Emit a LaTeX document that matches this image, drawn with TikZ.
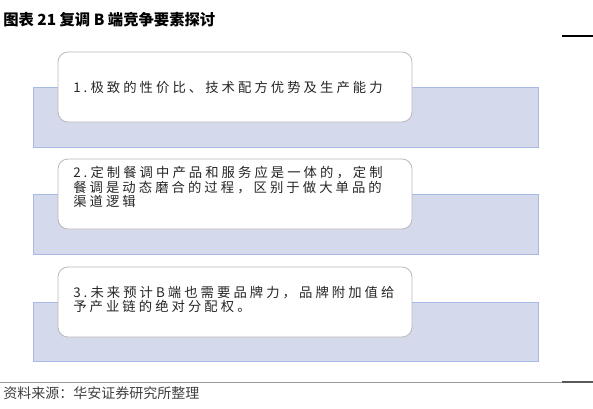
\documentclass[tikz,border=0pt]{standalone}
\usepackage{fontspec}
\newfontfamily\cjk{Noto Sans CJK SC}[LetterSpace=23]
\newfontfamily\cjkplain{Noto Sans CJK SC}
\definecolor{bandfill}{RGB}{212,217,235}
\definecolor{bandline}{RGB}{168,186,228}
\definecolor{boxline}{RGB}{185,185,185}
\begin{document}
\begin{tikzpicture}[x=0.75pt,y=-0.75pt,
  band/.style={fill=bandfill,draw=bandline,line width=0.6pt},
  card/.style={fill=white,draw=boxline,line width=0.6pt,rounded corners=7.5pt},
  cardtext/.style={anchor=west,inner sep=0pt,align=left,font=\cjk\fontsize{10}{11}\selectfont,text=black!85}]
\useasboundingbox (0,0) rectangle (593,408);
% title
\node[anchor=west,inner sep=0pt,font=\cjkplain\bfseries\fontsize{11.5}{13}\selectfont] (title) at (3,20) {图表 21 复调 B 端竞争要素探讨};
\draw[line width=0.8pt] (562,36) coordinate (tl1) -- (593,36) coordinate (tl2);
% bands
\path[band] (33,87) rectangle (538,147);
\path[band] (33,194) rectangle (538,254);
\path[band] (33,302) rectangle (538,361);
% cards
\path[card] (58,52) rectangle (412,122);
\path[card] (58,159) rectangle (412,229);
\path[card] (58,267) rectangle (412,337);
% texts
\node[cardtext] (t1) at (73,87) {1.极致的性价比、技术配方优势及生产能力};
\node[cardtext] (t2) at (73,187) {2.定制餐调中产品和服务应是一体的，定制\\餐调是动态磨合的过程，区别于做大单品的\\渠道逻辑};
\node[cardtext] (t3) at (73,299.5) {3.未来预计B端也需要品牌力，品牌附加值给\\予产业链的绝对分配权。};
% footer
\draw[line width=0.6pt,draw=black!40] (0,382.5) coordinate (fl1) -- (593,382.5) coordinate (fl2);
\draw[line width=1.3pt,draw=black!65] (562,382) coordinate (fd1) -- (593,382) coordinate (fd2);
\node[anchor=west,inner sep=0pt,font=\cjkplain\fontsize{10.5}{12}\selectfont,text=black!75] (src) at (3,393) {资料来源：华安证券研究所整理};
\end{tikzpicture}
\end{document}
